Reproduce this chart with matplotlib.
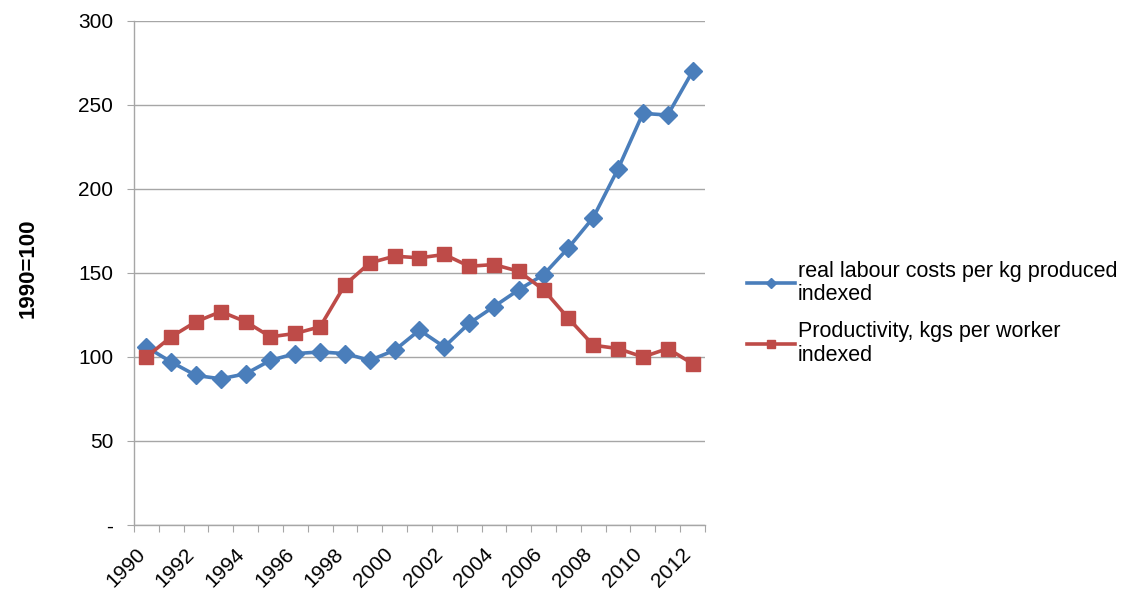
import matplotlib.pyplot as plt
from matplotlib.ticker import FixedLocator, FixedFormatter
from matplotlib.transforms import ScaledTranslation

plt.rcParams["font.family"] = ["Liberation Sans", "DejaVu Sans"]

years = list(range(1990, 2013))
labour_costs = [106, 97, 89, 87, 90, 98, 102, 103, 102, 98, 104, 116, 106,
                120, 130, 140, 149, 165, 183, 212, 245, 244, 270]
productivity = [100, 112, 121, 127, 121, 112, 114, 118, 143, 156, 160, 159, 161,
                154, 155, 151, 140, 123, 107, 105, 100, 105, 96]
y_ticks = [0, 50, 100, 150, 200, 250, 300]
y_labels = ["-", "50", "100", "150", "200", "250", "300"]

BLUE = "#4A7EBB"
RED = "#BE4B48"
GRID = "#A6A6A6"

fig = plt.figure(figsize=(11.4, 6.01), dpi=100)
ax = fig.add_axes([0.1175, 0.1265, 0.5009, 0.8386])

x = list(range(len(years)))
ax.plot(x, labour_costs, color=BLUE, lw=2.6, marker="D", ms=9,
        label="real labour costs per kg produced\nindexed", zorder=3)
ax.plot(x, productivity, color=RED, lw=2.6, marker="s", ms=10.5,
        label="Productivity, kgs per worker\nindexed", zorder=3)

ax.set_xlim(-0.5, len(years) - 0.5)
ax.set_ylim(0, 300)

# y axis
ax.set_yticks(y_ticks)
ax.set_yticklabels(y_labels)
ax.yaxis.grid(True, color=GRID, lw=1)
ax.set_axisbelow(True)
ax.tick_params(axis="y", length=5, color=GRID, labelsize=15, pad=10)
ax.set_ylabel("1990=100", fontsize=16, fontweight="bold")
ax.yaxis.set_label_coords(-0.167, 0.51)

# x axis: tick marks on category boundaries, labels on every other year
bounds = [i - 0.5 for i in range(len(years) + 1)]
ax.xaxis.set_major_locator(FixedLocator(bounds))
ax.xaxis.set_major_formatter(FixedFormatter([""] * len(bounds)))
label_pos = x[::2]
ax.xaxis.set_minor_locator(FixedLocator(label_pos))
ax.xaxis.set_minor_formatter(FixedFormatter([str(years[i]) for i in label_pos]))
ax.tick_params(axis="x", which="major", length=5, color=GRID)
ax.tick_params(axis="x", which="minor", length=0, labelsize=15, pad=14)
shift = ScaledTranslation(-0.11, 0, fig.dpi_scale_trans)
for lbl in ax.xaxis.get_minorticklabels():
    lbl.set_rotation(45)
    lbl.set_ha("right")
    lbl.set_rotation_mode("anchor")
    lbl.set_transform(lbl.get_transform() + shift)

for side in ["top", "right"]:
    ax.spines[side].set_visible(False)
for side in ["left", "bottom"]:
    ax.spines[side].set_color(GRID)
    ax.spines[side].set_linewidth(1)

leg = ax.legend(loc="center left", bbox_to_anchor=(1.04, 0.42), frameon=False,
                fontsize=15.5, handlelength=2.2, handletextpad=0.15,
                labelspacing=0.75, markerscale=0.6)
for t in leg.get_texts():
    t.set_linespacing(1.15)

fig.savefig("out.png", dpi=100)
